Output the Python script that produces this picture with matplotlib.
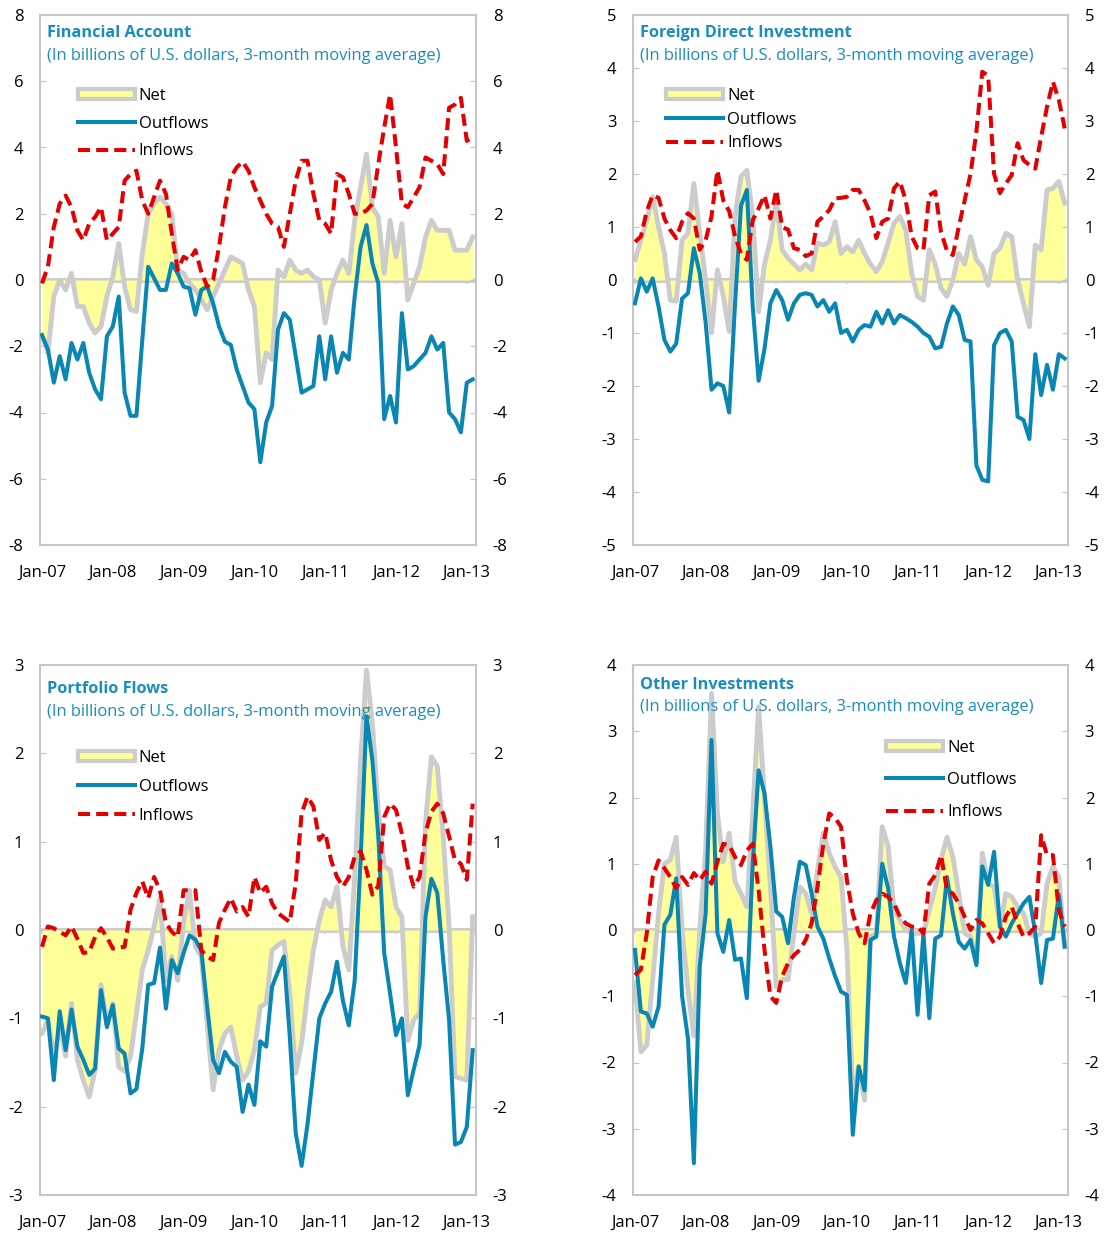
import matplotlib
matplotlib.use("Agg")
import matplotlib.pyplot as plt
from matplotlib.patches import Patch
from matplotlib.lines import Line2D
import numpy as np

plt.rcParams['font.family'] = ['Open Sans', 'DejaVu Sans']

# monthly data, Jan-07 .. Feb-13 (3-month moving averages, bn USD)
year_labels = ['Jan-07', 'Jan-08', 'Jan-09', 'Jan-10', 'Jan-11', 'Jan-12', 'Jan-13']

fa_net = [-1.7, -2.2, -0.5, 0.0, -0.3, 0.2, -0.8, -0.8, -1.3, -1.6,
          -1.4, -0.5, 0.1, 1.1, -0.2, -0.9, -0.95, 0.8, 2.0, 2.3,
          2.5, 2.3, 2.0, 0.3, 0.2, -0.1, -0.3, -0.6, -0.9, -0.5,
          -0.1, 0.3, 0.7, 0.6, 0.5, -0.3, -0.8, -3.1, -2.2, -2.4,
          0.3, 0.1, 0.6, 0.3, 0.2, 0.3, 0.1, 0.0, -1.3, -0.3,
          0.2, 0.6, 0.2, 1.8, 2.8, 3.8, 2.2, 1.9, 0.2, 1.8,
          0.7, 1.7, -0.6, -0.1, 0.4, 1.3, 1.8, 1.5, 1.5, 1.5,
          0.9, 0.9, 0.9, 1.3]
fa_out = [-1.66, -2.1, -3.1, -2.3, -3.0, -1.9, -2.4, -1.9, -2.8, -3.3,
          -3.6, -1.7, -1.4, -0.5, -3.4, -4.1, -4.1, -1.8, 0.4, 0.05,
          -0.3, -0.3, 0.5, 0.2, -0.2, -0.25, -1.05, -0.3, -0.2, -0.7,
          -1.4, -1.86, -1.96, -2.7, -3.2, -3.7, -3.9, -5.5, -4.3, -3.8,
          -1.5, -1.0, -1.2, -2.3, -3.4, -3.3, -3.2, -1.7, -3.0, -1.7,
          -2.8, -2.2, -2.4, -0.5, 1.0, 1.66, 0.5, -0.1, -4.2, -3.5,
          -4.3, -1.0, -2.7, -2.6, -2.4, -2.2, -1.7, -2.1, -1.9, -4.0,
          -4.2, -4.6, -3.1, -3.0]
fa_in = [-0.1, 0.4, 1.6, 2.3, 2.55, 2.2, 1.5, 1.2, 1.7, 1.9,
         2.2, 1.2, 1.4, 1.6, 3.0, 3.2, 3.3, 2.4, 2.0, 2.5,
         3.0, 2.6, 1.4, 0.3, 0.7, 0.6, 0.9, 0.25, -0.2, 0.0,
         1.0, 2.2, 3.1, 3.4, 3.57, 3.3, 2.8, 2.4, 2.0, 1.7,
         1.6, 1.0, 2.0, 3.0, 3.6, 3.6, 2.6, 1.8, 1.7, 1.4,
         3.2, 3.1, 2.6, 2.0, 2.0, 2.1, 2.3, 3.5, 4.6, 5.6,
         4.0, 2.3, 2.2, 2.5, 2.8, 3.7, 3.6, 3.5, 3.2, 5.2,
         5.3, 5.5, 4.2, 4.3]

fdi_net = [0.38, 0.75, 1.13, 1.57, 1.0, 0.5, -0.38, -0.4, 0.75, 0.88,
           1.82, 0.88, 0.0, -1.0, 0.19, -0.3, -0.97, 1.2, 1.95, 2.07,
           1.2, -0.6, 0.3, 0.75, 1.5, 0.57, 0.41, 0.3, 0.19, 0.3,
           0.19, 0.7, 0.66, 0.72, 1.1, 0.5, 0.63, 0.53, 0.75, 0.5,
           0.3, 0.16, 0.35, 0.7, 1.07, 1.2, 0.94, 0.13, -0.31, -0.38,
           0.57, 0.3, -0.16, -0.31, 0.0, 0.5, 0.3, 0.82, 0.38, 0.25,
           -0.1, 0.5, 0.6, 0.88, 0.82, 0.0, -0.44, -0.88, 0.66, 0.57,
           1.7, 1.73, 1.86, 1.45]
fdi_out = [-0.44, 0.03, -0.22, 0.03, -0.5, -1.13, -1.35, -1.2, -0.35, -0.25,
           0.6, 0.13, -0.8, -2.07, -1.95, -2.0, -2.5, -0.44, 1.4, 1.7,
           -0.5, -1.9, -1.3, -0.44, -0.19, -0.38, -0.75, -0.44, -0.28, -0.25,
           -0.28, -0.5, -0.38, -0.6, -0.44, -1.0, -0.94, -1.16, -0.94, -0.85,
           -0.88, -0.6, -0.82, -0.57, -0.82, -0.66, -0.72, -0.79, -0.88, -1.0,
           -1.07, -1.29, -1.26, -0.82, -0.5, -0.66, -1.13, -1.16, -3.5, -3.77,
           -3.8, -1.23, -1.0, -0.94, -1.16, -2.58, -2.64, -3.0, -1.4, -2.17,
           -1.6, -2.07, -1.4, -1.48]
fdi_in = [0.72, 0.82, 1.3, 1.6, 1.55, 1.16, 0.94, 0.79, 1.1, 1.26,
          1.16, 0.57, 0.75, 1.2, 2.07, 1.5, 1.3, 0.82, 0.5, 0.38,
          1.13, 1.35, 1.6, 1.16, 1.7, 1.0, 0.95, 0.6, 0.57, 0.45,
          0.5, 1.1, 1.2, 1.32, 1.54, 1.55, 1.57, 1.7, 1.7, 1.5,
          1.26, 0.79, 1.1, 1.16, 1.73, 1.86, 1.5, 0.82, 0.6, 0.57,
          1.6, 1.67, 0.9, 0.55, 0.47, 1.0, 1.5, 2.0, 2.8, 3.93,
          3.85, 2.0, 1.64, 1.82, 1.98, 2.58, 2.26, 2.17, 2.1, 2.7,
          3.27, 3.74, 3.4, 2.86]

pf_net = [-1.17, -1.02, -1.43, -1.1, -1.43, -0.83, -1.47, -1.7, -1.89, -1.58,
          -0.62, -1.06, -0.83, -1.55, -1.6, -1.43, -0.95, -0.45, -0.23, 0.04,
          0.36, -0.57, -0.3, -0.57, 0.09, 0.45, -0.19, -0.3, -1.06, -1.81,
          -1.36, -1.17, -1.1, -1.43, -1.7, -1.6, -1.36, -0.87, -0.83, -0.23,
          -0.17, -0.13, -0.72, -1.62, -1.28, -0.72, -0.23, 0.11, 0.34, 0.26,
          0.49, -0.19, -0.45, 0.6, 1.92, 2.94, 2.34, 1.36, 0.72, 0.68,
          0.26, 0.15, -1.25, -1.02, -0.94, 1.21, 1.96, 1.85, 1.06, 0.04,
          -1.66, -1.68, -1.7, 0.15]
pf_out = [-0.98, -1.0, -1.7, -0.92, -1.36, -0.9, -1.32, -1.47, -1.64, -1.57,
          -0.68, -1.1, -0.85, -1.34, -1.4, -1.85, -1.8, -1.34, -0.62, -0.6,
          -0.2, -0.89, -0.34, -0.49, -0.26, -0.06, -0.11, -0.23, -0.87, -1.47,
          -1.62, -1.38, -1.49, -1.55, -2.06, -1.75, -1.98, -1.26, -1.32, -0.64,
          -0.47, -0.3, -1.21, -2.3, -2.67, -2.2, -1.6, -1.0, -0.83, -0.7,
          -0.36, -0.8, -1.08, -0.57, 0.79, 2.42, 1.92, 1.06, -0.26, -0.72,
          -1.19, -1.0, -1.87, -1.58, -1.3, 0.15, 0.58, 0.42, -0.34, -1.02,
          -2.43, -2.4, -2.23, -1.36]
pf_in = [-0.19, 0.04, 0.02, -0.02, -0.06, 0.04, -0.1, -0.26, -0.25, -0.08,
         0.02, -0.08, -0.21, -0.2, -0.19, 0.23, 0.42, 0.55, 0.36, 0.6,
         0.45, 0.08, -0.02, -0.08, 0.45, 0.45, 0.45, -0.23, -0.3, -0.34,
         0.08, 0.23, 0.36, 0.21, 0.26, 0.15, 0.6, 0.42, 0.49, 0.3,
         0.19, 0.14, 0.09, 0.53, 1.32, 1.51, 1.4, 1.02, 1.1, 0.79,
         0.6, 0.49, 0.6, 0.83, 0.89, 0.68, 0.4, 0.5, 1.28, 1.43,
         1.36, 1.09, 0.72, 0.49, 0.6, 1.1, 1.34, 1.43, 1.32, 1.06,
         0.79, 0.75, 0.57, 1.43]

oi_net = [-0.8, -1.84, -1.74, -0.75, 0.25, 1.0, 1.06, 1.4, 0.0, -0.9,
          -1.6, 0.0, 1.2, 3.57, 1.76, 1.03, 1.46, 0.73, 0.55, 0.35,
          1.76, 3.37, 2.0, 0.65, -0.86, -0.75, -0.75, -0.05, 0.65, 0.55,
          0.25, 0.9, 1.46, 1.16, 0.95, 0.8, -0.3, -2.52, -2.06, -2.57,
          -0.1, -0.05, 1.56, 1.26, 0.3, 0.15, 0.0, -0.05, -0.05, -0.05,
          0.3, 0.63, 1.06, 1.4, 1.1, 0.55, -0.05, -0.1, -0.5, 1.16,
          0.7, 0.65, 0.05, 0.55, 0.5, 0.35, 0.25, -0.05, -0.1, -0.05,
          0.7, 0.96, 0.8, -0.25]
oi_out = [-0.3, -1.23, -1.26, -1.46, -1.16, 0.08, 0.23, 0.78, -1.0, -1.64,
          -3.52, -0.55, 0.25, 2.87, -0.05, -0.33, 0.15, -0.45, -0.43, -1.03,
          1.0, 2.41, 2.06, 1.26, 0.28, 0.2, -0.2, 0.5, 1.03, 0.98,
          0.55, 0.05, -0.13, -0.43, -0.7, -0.93, -0.98, -3.09, -2.06, -2.42,
          -0.15, -0.1, 1.0, 0.63, -0.1, -0.5, -0.8, 0.0, -1.28, -0.05,
          -1.33, -0.13, -0.08, 0.8, 0.25, -0.18, -0.28, -0.15, -0.53, 0.96,
          0.68, 1.18, 0.05, -0.1, 0.1, 0.25, 0.4, 0.5, -0.05, -0.8,
          -0.15, -0.13, 0.53, -0.25]
oi_in = [-0.68, -0.6, -0.05, 0.8, 1.05, 0.93, 0.8, 0.63, 0.8, 0.68,
         0.86, 0.75, 0.88, 0.7, 1.03, 1.3, 1.28, 1.1, 0.98, 1.2,
         1.3, 0.6, -0.3, -1.0, -1.1, -0.7, -0.5, -0.38, -0.3, -0.15,
         0.1, 0.65, 1.3, 1.76, 1.69, 1.56, 0.75, 0.25, -0.05, -0.2,
         0.25, 0.45, 0.55, 0.5, 0.4, 0.2, 0.1, 0.05, 0.05, -0.05,
         0.7, 0.83, 1.13, 0.6, 0.55, 0.4, 0.2, 0.0, 0.15, 0.1,
         -0.05, -0.2, -0.1, 0.2, 0.35, 0.1, -0.1, -0.05, 0.05, 1.43,
         1.13, 1.13, 0.3, 0.05]

BLUE = '#0a86b3'
RED = '#e30000'
GRAY = '#cccccc'
YELLOW = '#ffff99'
TITLE_BLUE = '#1a8dbf'
FRAME = '#c6c6c6'
SUBTITLE = '(In billions of U.S. dollars, 3-month moving average)'

W, H = 1105, 1235
fig = plt.figure(figsize=(W / 100, H / 100), dpi=100)


def panel(rect, net, out, inflow, lim, title, leg_xy, leg_space, title_y):
    ax = fig.add_axes([rect[0] / W, 1 - rect[3] / H,
                       (rect[2] - rect[0]) / W, (rect[3] - rect[1]) / H])
    x = np.arange(len(net))
    ax.axhline(0, color=GRAY, lw=3.6, zorder=1)
    ax.fill_between(x, 0, net, color=YELLOW, lw=0, zorder=1.5)
    ax.plot(x, net, color=GRAY, lw=3.5, zorder=2, solid_joinstyle='round')
    ax.plot(x, out, color=BLUE, lw=2.9, zorder=3, solid_joinstyle='round')
    ax.plot(x, inflow, color=RED, lw=2.9, ls=(0, (3, 1.5)), zorder=4)

    ax.set_xlim(-0.34, 73.56)
    ax.set_ylim(-lim, lim)
    ax.set_xticks(np.arange(0, 73, 12))
    ax.set_xticklabels(year_labels)
    step = 2 if lim == 8 else 1
    ax.set_yticks(np.arange(-lim, lim + 0.1, step))
    ax.set_yticklabels([f'{v:g}' for v in np.arange(-lim, lim + 0.1, step)])
    ax.tick_params(axis='x', length=0, pad=14.5, labelsize=12)
    ax.tick_params(axis='y', direction='in', length=4, color=FRAME,
                   left=True, right=True, labelleft=True, labelright=True,
                   pad=12, labelsize=12)
    for s in ax.spines.values():
        s.set_color(FRAME)
        s.set_linewidth(1.5)

    # small tick marks on the zero line
    sec = ax.secondary_xaxis(0.5)
    sec.set_xticks(np.arange(0, 73, 12))
    sec.set_xticklabels([])
    sec.tick_params(length=3, direction='in', color=GRAY, width=1.2)
    sec.spines['bottom'].set_visible(False)
    sec.spines['top'].set_visible(False)

    ax.text(0.017, title_y[0], title, transform=ax.transAxes, color=TITLE_BLUE,
            fontsize=11.7, fontweight='bold', va='center', ha='left')
    ax.text(0.017, title_y[1], SUBTITLE, transform=ax.transAxes, color=TITLE_BLUE,
            fontsize=11.9, va='center', ha='left')

    handles = [Patch(facecolor=YELLOW, edgecolor=GRAY, lw=3),
               Line2D([], [], color=BLUE, lw=2.9),
               Line2D([], [], color=RED, lw=2.9, ls=(0, (3, 1.5)))]
    ax.legend(handles, ['Net', 'Outflows', 'Inflows'], loc='upper left',
              bbox_to_anchor=leg_xy, frameon=False, fontsize=12,
              handlelength=3.4, handleheight=0.55, handletextpad=0.25,
              labelspacing=leg_space, borderpad=0, borderaxespad=0)
    return ax


panel((40, 15, 476, 545), fa_net, fa_out, fa_in, 8, 'Financial Account',
      (0.087, 0.862), 0.69, (0.966, 0.922))
panel((633, 15, 1068, 545), fdi_net, fdi_out, fdi_in, 5, 'Foreign Direct Investment',
      (0.077, 0.862), 0.45, (0.966, 0.922))
panel((40, 665, 476, 1195), pf_net, pf_out, pf_in, 3, 'Portfolio Flows',
      (0.087, 0.840), 0.78, (0.955, 0.912))
panel((633, 665, 1068, 1195), oi_net, oi_out, oi_in, 4, 'Other Investments',
      (0.582, 0.859), 0.97, (0.963, 0.920))

fig.savefig('out.png', dpi=100)
